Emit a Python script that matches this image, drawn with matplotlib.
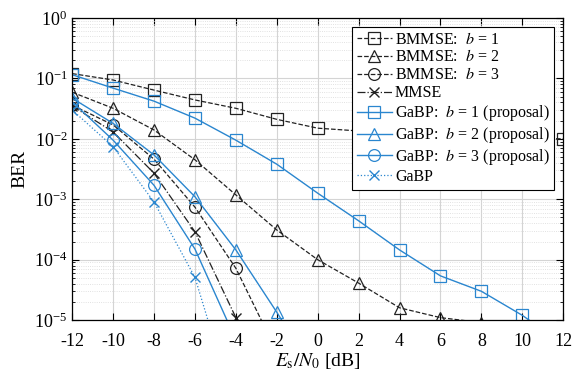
import matplotlib
matplotlib.use("Agg")
import matplotlib.pyplot as plt
import numpy as np

plt.rcParams["font.family"] = "Liberation Serif"
plt.rcParams["mathtext.fontset"] = "stix"
plt.rcParams["axes.unicode_minus"] = False

snr = [-12, -10, -8, -6, -4, -2, 0, 2, 4, 6, 8, 10, 12]

# BMMSE (dashed, black)
bmmse_b1 = [0.12, 0.094, 0.064, 0.044, 0.032, 0.021, 0.015, 0.0135, 0.0122, 0.0113, 0.0107, 0.0103, 0.0100]
snr_b2 = [-12, -10, -8, -6, -4, -2, 0, 2, 4, 6, 8]
bmmse_b2 = [0.059, 0.032, 0.014, 0.0045, 0.00118, 3.1e-4, 1.0e-4, 4.1e-5, 1.6e-5, 1.1e-5, 9.1e-6]
snr_b3 = [-12, -10, -8, -6, -4, -2]
bmmse_b3 = [0.036, 0.017, 0.0046, 7.4e-4, 7.2e-5, 3e-6]
snr_mmse = [-12, -10, -8, -6, -4, -2]
mmse = [0.035, 0.013, 0.0027, 2.9e-4, 1.1e-5, 3e-7]

# GaBP (blue)
gabp_b1 = [0.115, 0.069, 0.042, 0.022, 0.0095, 0.0038, 0.00126, 4.4e-4, 1.45e-4, 5.4e-5, 3.0e-5, 1.2e-5, 4e-6]
snr_g2 = [-12, -10, -8, -6, -4, -2, 0]
gabp_b2 = [0.047, 0.018, 0.0054, 1.1e-3, 1.45e-4, 1.35e-5, 1.1e-6]
snr_g3 = [-12, -10, -8, -6, -4]
gabp_b3 = [0.041, 0.0095, 0.0017, 1.5e-4, 4.7e-6]
snr_g = [-12, -10, -8, -6, -4]
gabp = [0.030, 0.0074, 9e-4, 5.1e-5, 3e-7]

blue = "#2a86cf"
black = "#222222"

fig = plt.figure(figsize=(5.73, 3.74), dpi=100)
ax = fig.add_axes([0.126, 0.144, 0.857, 0.808])

ms = 8.5
kw_k = dict(color=black, lw=0.9, mfc="none", mew=0.9, ms=ms)
kw_b = dict(color=blue, lw=1.0, mfc="none", mew=0.9, ms=ms)

ax.semilogy(snr, bmmse_b1, "--s", label="BMMSE:  $b$ = 1", **kw_k)
ax.semilogy(snr_b2, bmmse_b2, "--^", label="BMMSE:  $b$ = 2", **kw_k)
ax.semilogy(snr_b3, bmmse_b3, "--o", label="BMMSE:  $b$ = 3", **kw_k)
ax.semilogy(snr_mmse, mmse, "-.x", color=black, lw=0.9, mew=1.0, ms=6.5, label="MMSE")
ax.semilogy(snr, gabp_b1, "-s", label="GaBP:  $b$ = 1 (proposal)", **kw_b)
ax.semilogy(snr_g2, gabp_b2, "-^", label="GaBP:  $b$ = 2 (proposal)", **kw_b)
ax.semilogy(snr_g3, gabp_b3, "-o", label="GaBP:  $b$ = 3 (proposal)", **kw_b)
ax.semilogy(snr_g, gabp, ":x", color=blue, lw=0.9, mew=1.0, ms=6.5, label="GaBP")

ax.set_xlim(-12, 12)
ax.set_ylim(1e-5, 1)
ax.set_xticks(np.arange(-12, 13, 2))
ax.grid(True, which="major", color="#d4d4d4", lw=0.8)
ax.grid(True, which="minor", color="#d8d8d8", lw=0.6, ls=":")
ax.set_axisbelow(True)
ax.tick_params(which="both", direction="in", top=True, right=True, labelsize=13)
ax.tick_params(axis="x", pad=9)
ax.tick_params(which="major", length=5)
ax.tick_params(which="minor", length=2.5)
for s in ax.spines.values():
    s.set_linewidth(0.9)

ax.set_xlabel("$E_{\\rm s}/N_0$ [dB]", fontsize=14, labelpad=1)
ax.set_ylabel("BER", fontsize=14, labelpad=4)

leg = ax.legend(loc="upper right", fontsize=11.5, handlelength=2.2, handletextpad=0.2,
                labelspacing=0.12, borderpad=0.3, borderaxespad=0.55, fancybox=False,
                framealpha=1)
leg.get_frame().set_edgecolor("black")
leg.get_frame().set_linewidth(0.8)

fig.savefig("out.png", dpi=100)
